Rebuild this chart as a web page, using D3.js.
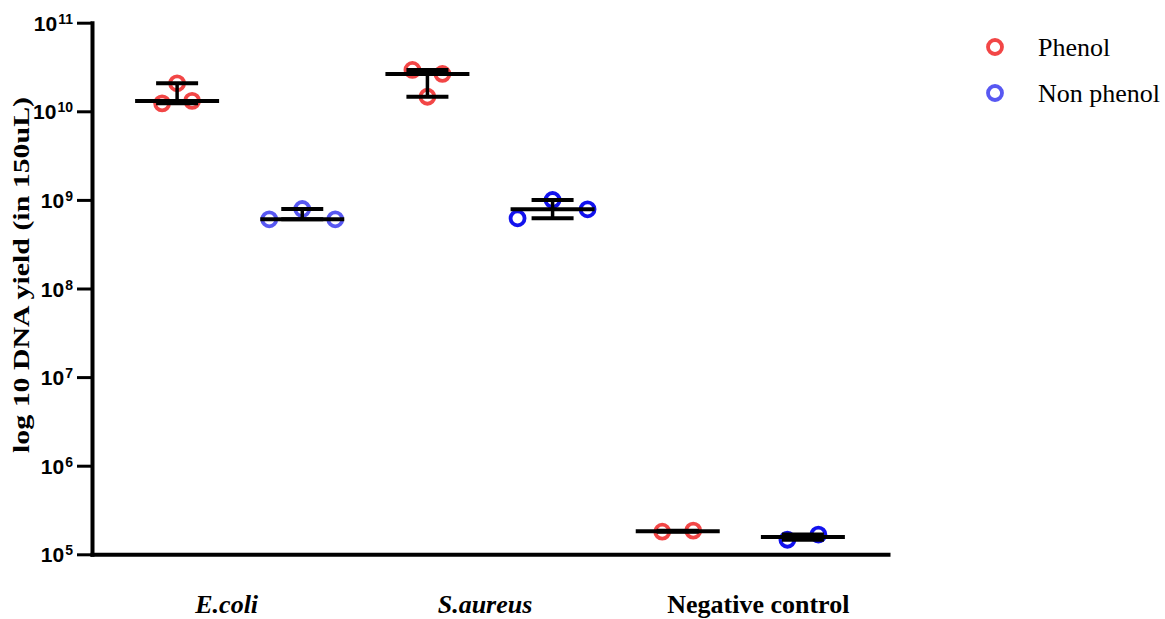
<!DOCTYPE html>
<html>
<head>
<meta charset="utf-8">
<script src="https://cdn.jsdelivr.net/npm/d3@7"></script>
<style>
  html, body { margin: 0; padding: 0; background: #fff; }
  svg { display: block; }
</style>
</head>
<body>
<svg id="chart" width="1165" height="619"></svg>
<script>
// DNA yield per 150 uL, replicates per extraction method
const categories = ["E.coli", "S.aureus", "Negative control"];
const italicCategory = [true, true, false];
const seriesNames = ["Phenol", "Non phenol"];
const phenolValues = [
  [1.23e10, 2.07e10, 1.31e10],
  [2.93e10, 1.46e10, 2.64e10],
  [1.80e5, 1.85e5]
];
const nonPhenolValues = [
  [6.04e8, 7.89e8, 6.04e8],
  [6.2e8, 9.97e8, 7.83e8],
  [1.46e5, 1.67e5]
];
const tickValues = [1e5, 1e6, 1e7, 1e8, 1e9, 1e10, 1e11];
const tickExponents = ["5", "6", "7", "8", "9", "10", "11"];
const yTitle = "log 10 DNA yield (in 150uL)";

// styling / layout
const phenolColor = "#f24646";
const nonPhenolColors = ["#5858f2", "#1212ee", "#1212ee"];
const jitterSpread = [[15, 33], [15, 35], [31, 31]];
const labelNudge = [-13, -5, 18];
const plot = { left: 92, right: 888, top: 22.7, bottom: 554.3 };

const svg = d3.select("#chart");
const serif = "'Liberation Serif', 'Times New Roman', serif";
const sans = "'Liberation Sans', Arial, sans-serif";

// one slot per category x series
const groups = [];
categories.forEach((c, ci) => {
  groups.push({ key: c + "|0", ci, si: 0, values: phenolValues[ci], color: phenolColor });
  groups.push({ key: c + "|1", ci, si: 1, values: nonPhenolValues[ci], color: nonPhenolColors[ci] });
});

const x = d3.scalePoint()
  .domain(groups.map(g => g.key))
  .range([plot.left, plot.right])
  .padding(0.68);

const y = d3.scaleLog()
  .domain([1e5, 1e11])
  .range([plot.bottom, plot.top]);

// y axis
const yAxis = svg.append("g")
  .attr("transform", `translate(${plot.left},0)`)
  .call(d3.axisLeft(y).tickValues(tickValues).tickSize(15).tickSizeOuter(0).tickFormat(""));
yAxis.select(".domain").attr("stroke", "#000").attr("stroke-width", 4).attr("stroke-linecap", "square");
yAxis.selectAll(".tick line").attr("stroke", "#000").attr("stroke-width", 3);

// tick labels as 10 with superscript exponents
const tl = svg.append("g");
tickValues.forEach((v, i) => {
  const t = tl.append("text")
    .attr("x", 73)
    .attr("y", y(v) + 8)
    .attr("text-anchor", "end")
    .attr("font-family", sans)
    .attr("font-weight", "bold")
    .attr("font-size", 21)
    .attr("fill", "#000");
  t.append("tspan").text("10");
  t.append("tspan").attr("dy", -7).attr("dx", 1).attr("font-size", 14).text(tickExponents[i]);
});

// x axis
const xAxis = svg.append("g")
  .attr("transform", `translate(0,${plot.bottom})`)
  .call(d3.axisBottom(x).tickSize(0).tickSizeOuter(0).tickFormat(""));
xAxis.select(".domain").attr("stroke", "#000").attr("stroke-width", 4).attr("stroke-linecap", "square");

// category labels
categories.forEach((c, ci) => {
  const cx = (x(c + "|0") + x(c + "|1")) / 2 + labelNudge[ci];
  svg.append("text")
    .attr("x", cx)
    .attr("y", 613)
    .attr("text-anchor", "middle")
    .attr("font-family", serif)
    .attr("font-weight", "bold")
    .attr("font-style", italicCategory[ci] ? "italic" : "normal")
    .attr("font-size", 26)
    .attr("fill", "#000")
    .text(c);
});

// y title
svg.append("text")
  .attr("transform", "translate(29,275) rotate(-90)")
  .attr("text-anchor", "middle")
  .attr("font-family", serif)
  .attr("font-weight", "bold")
  .attr("font-size", 24)
  .attr("textLength", 356)
  .attr("lengthAdjust", "spacingAndGlyphs")
  .attr("fill", "#000")
  .text(yTitle);

// replicate points
const pts = svg.append("g");
groups.forEach(g => {
  const n = g.values.length;
  const spread = jitterSpread[g.ci][g.si];
  g.values.forEach((v, i) => {
    pts.append("circle")
      .attr("cx", x(g.key) + (i - (n - 1) / 2) * spread)
      .attr("cy", y(v))
      .attr("r", 7)
      .attr("fill", "none")
      .attr("stroke", g.color)
      .attr("stroke-width", 3.8);
  });
});

// median with range
const stats = svg.append("g").attr("stroke", "#000").attr("stroke-width", 4);
const medianHalf = 42, capHalf = 21;
groups.forEach(g => {
  const cx = x(g.key);
  const med = d3.median(g.values);
  const lo = d3.min(g.values), hi = d3.max(g.values);
  stats.append("line").attr("x1", cx).attr("x2", cx).attr("y1", y(lo)).attr("y2", y(hi)).attr("stroke-width", 3.5);
  [lo, hi].forEach(v => {
    stats.append("line").attr("x1", cx - capHalf).attr("x2", cx + capHalf).attr("y1", y(v)).attr("y2", y(v));
  });
  stats.append("line").attr("x1", cx - medianHalf).attr("x2", cx + medianHalf).attr("y1", y(med)).attr("y2", y(med));
});

// legend
const legendColors = [phenolColor, nonPhenolColors[0]];
seriesNames.forEach((s, i) => {
  const ly = 47 + i * 46;
  svg.append("circle")
    .attr("cx", 995).attr("cy", ly).attr("r", 7)
    .attr("fill", "none").attr("stroke", legendColors[i]).attr("stroke-width", 3.8);
  svg.append("text")
    .attr("x", 1038).attr("y", ly + 9)
    .attr("font-family", serif)
    .attr("font-size", 26)
    .attr("fill", "#000")
    .text(s);
});
</script>
</body>
</html>
